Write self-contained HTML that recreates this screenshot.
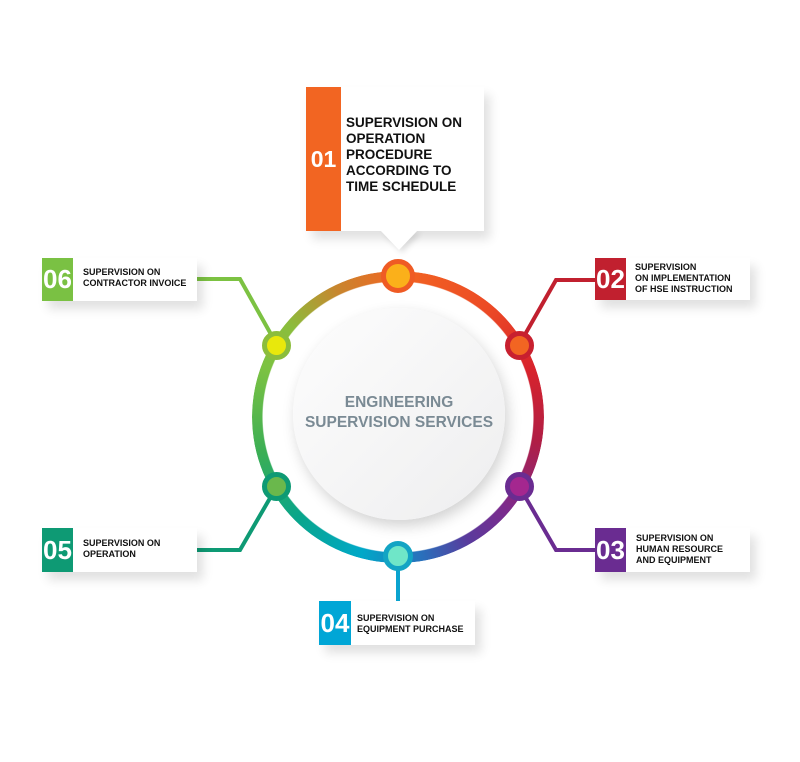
<!DOCTYPE html>
<html><head><meta charset="utf-8">
<style>
*{margin:0;padding:0;box-sizing:border-box}
body{width:800px;height:762px;background:#fff;position:relative;overflow:hidden;font-family:"Liberation Sans",Arial,sans-serif}
.ring{position:absolute;left:252px;top:271px;width:292px;height:292px;border-radius:50%;
background:conic-gradient(from 0deg,#f26522 0deg,#ec4a25 40deg,#d8232c 70deg,#b01e45 100deg,#7d2a8c 130deg,#5a3a9c 150deg,#2a6fbb 170deg,#00a8c8 195deg,#09a58a 225deg,#3aae55 255deg,#7cc242 290deg,#8bbd3c 310deg,#c9852e 335deg,#f26522 360deg);
-webkit-mask:radial-gradient(circle,transparent 135px,#000 136px);mask:radial-gradient(circle,transparent 135px,#000 136px)}
.inner{position:absolute;left:293px;top:308px;width:212px;height:212px;border-radius:50%;
background:linear-gradient(135deg,#fdfdfd,#eeeeef);box-shadow:3px 6px 14px rgba(0,0,0,.18)}
.ctext{position:absolute;left:293px;top:393px;width:212px;text-align:center;color:#7a8a94;font-weight:bold;font-size:15.5px;line-height:20px}
.node{position:absolute;border-radius:50%}
.box{position:absolute;background:#fff;box-shadow:6px 8px 10px rgba(0,0,0,.12)}
.num{position:absolute;left:0;top:0;bottom:0;color:#fff;font-weight:bold;display:flex;align-items:center;justify-content:center}
.txt{position:absolute;color:#111;font-weight:bold}
</style></head><body>
<svg width="800" height="762" style="position:absolute;left:0;top:0">
<polyline points="197,279 240,279 277,345" fill="none" stroke="#7cc242" stroke-width="4"/>
<polyline points="197,550 240,550 277,486" fill="none" stroke="#0e9a74" stroke-width="4"/>
<polyline points="595,280 556,280 519,345" fill="none" stroke="#c1202f" stroke-width="4"/>
<polyline points="595,550 556,550 519,486" fill="none" stroke="#6a2c91" stroke-width="4"/>
<line x1="398" y1="556" x2="398" y2="602" stroke="#0aa3cf" stroke-width="4"/>
</svg>
<div class="ring"></div>
<div class="inner"></div>
<div class="ctext">ENGINEERING<br>SUPERVISION SERVICES</div>

<div class="node" style="left:381px;top:259px;width:34px;height:34px;background:#fbb01a;border:5px solid #ef5b24"></div>
<div class="node" style="left:505px;top:331px;width:29px;height:29px;background:#f26522;border:5px solid #c8202f"></div>
<div class="node" style="left:505px;top:472px;width:29px;height:29px;background:#a4278f;border:5px solid #6a2c91"></div>
<div class="node" style="left:383px;top:541px;width:30px;height:30px;background:#6fe6c8;border:5px solid #13a4c4"></div>
<div class="node" style="left:262px;top:472px;width:29px;height:29px;background:#6ab84c;border:5px solid #0e9a74"></div>
<div class="node" style="left:262px;top:331px;width:29px;height:29px;background:#e8e80c;border:5px solid #8bbd3c"></div>

<!-- 01 -->
<div class="box" style="left:306px;top:87px;width:178px;height:144px"></div>
<svg width="800" height="762" style="position:absolute;left:0;top:0"><polygon points="380,230 418,230 399,250" fill="#fff" style="filter:drop-shadow(3px 3px 3px rgba(0,0,0,.12))"/></svg>
<div class="box" style="left:306px;top:87px;width:178px;height:144px;box-shadow:none">
<div class="num" style="width:35px;background:#f26522;font-size:23px">01</div>
<div class="txt" style="left:40px;top:28px;font-size:13.5px;line-height:16px">SUPERVISION ON<br>OPERATION<br>PROCEDURE<br>ACCORDING TO<br>TIME SCHEDULE</div></div>
<!-- 02 -->
<div class="box" style="left:595px;top:258px;width:155px;height:42px">
<div class="num" style="width:31px;background:#c1202f;font-size:26px">02</div>
<div class="txt" style="left:40px;top:4px;font-size:9px;line-height:11px">SUPERVISION<br>ON IMPLEMENTATION<br>OF HSE INSTRUCTION</div></div>
<!-- 03 -->
<div class="box" style="left:595px;top:528px;width:155px;height:44px">
<div class="num" style="width:31px;background:#6a2c91;font-size:26px">03</div>
<div class="txt" style="left:41px;top:5px;font-size:9px;line-height:11px">SUPERVISION ON<br>HUMAN RESOURCE<br>AND EQUIPMENT</div></div>
<!-- 04 -->
<div class="box" style="left:319px;top:601px;width:156px;height:44px">
<div class="num" style="width:32px;background:#00a6d6;font-size:26px">04</div>
<div class="txt" style="left:38px;top:12px;font-size:9px;line-height:11px">SUPERVISION ON<br>EQUIPMENT PURCHASE</div></div>
<!-- 05 -->
<div class="box" style="left:42px;top:528px;width:155px;height:44px">
<div class="num" style="width:31px;background:#0e9a74;font-size:26px">05</div>
<div class="txt" style="left:41px;top:10px;font-size:9px;line-height:11px">SUPERVISION ON<br>OPERATION</div></div>
<!-- 06 -->
<div class="box" style="left:42px;top:258px;width:155px;height:43px">
<div class="num" style="width:31px;background:#7ac143;font-size:26px">06</div>
<div class="txt" style="left:41px;top:9px;font-size:9px;line-height:11px">SUPERVISION ON<br>CONTRACTOR INVOICE</div></div>
</body></html>
